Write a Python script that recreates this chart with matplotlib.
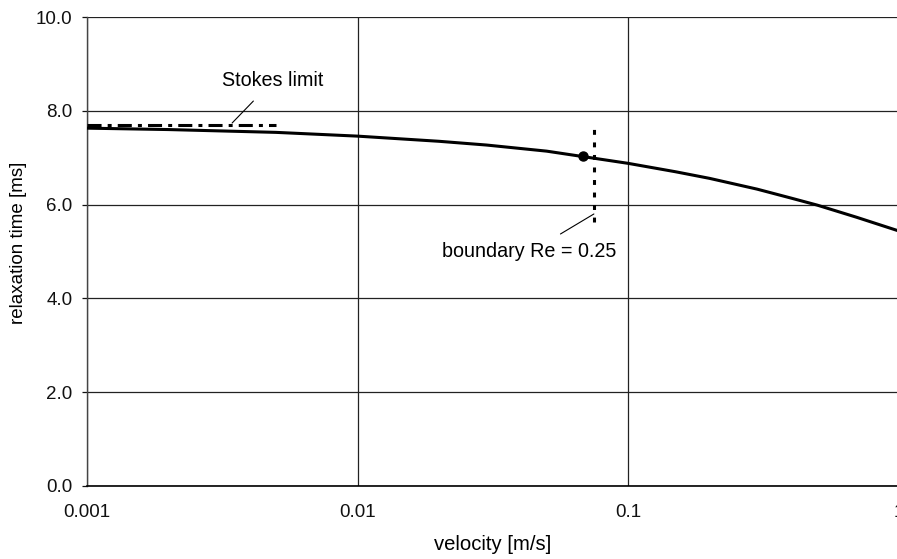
import matplotlib
matplotlib.use("Agg")
import matplotlib.pyplot as plt
from matplotlib.ticker import FixedLocator, FixedFormatter, NullLocator

# ---- data ----
velocity = [0.001, 0.002, 0.005, 0.01, 0.02, 0.03, 0.05, 0.1, 0.15, 0.2, 0.3, 0.4, 0.5, 0.7, 1.0]
relax_time = [7.63, 7.60, 7.54, 7.46, 7.35, 7.27, 7.14, 6.88, 6.70, 6.56, 6.33, 6.14, 5.99, 5.73, 5.44]

point_vel = [0.0684]
point_tau = [7.04]

stokes_vel = [0.001, 0.005]
stokes_tau = [7.70, 7.70]

boundary_vel = [0.075, 0.075]
boundary_tau = [5.63, 7.65]

x_ticks = [0.001, 0.01, 0.1, 1]
x_tick_labels = ["0.001", "0.01", "0.1", "1"]
y_ticks = [0, 2, 4, 6, 8, 10]
y_tick_labels = ["0.0", "2.0", "4.0", "6.0", "8.0", "10.0"]

plt.rcParams['font.family'] = ['Liberation Sans', 'DejaVu Sans']
FS = 13.5
FS_TXT = 14.2

fig = plt.figure(figsize=(8.97, 5.59), dpi=100)
ax = fig.add_axes([87/897, 1-486/559, (898.5-87)/897, (486-17)/559])

ax.set_xscale('log')
ax.set_xlim(0.001, 1)
ax.set_ylim(0, 10)

ax.xaxis.set_major_locator(FixedLocator(x_ticks))
ax.xaxis.set_major_formatter(FixedFormatter(x_tick_labels))
ax.xaxis.set_minor_locator(NullLocator())
ax.yaxis.set_major_locator(FixedLocator(y_ticks))
ax.yaxis.set_major_formatter(FixedFormatter(y_tick_labels))

ax.grid(True, which='major', color='#222222', linewidth=0.9)
ax.set_axisbelow(True)

for s in ['top', 'right']:
    ax.spines[s].set_visible(False)
ax.spines['left'].set_color('#444444')
ax.spines['left'].set_linewidth(1.0)
ax.spines['bottom'].set_color('black')
ax.spines['bottom'].set_linewidth(1.2)

ax.tick_params(axis='x', length=0, pad=13, labelsize=FS, colors='#111111')
ax.tick_params(axis='y', length=3.6, width=0.9, pad=7, labelsize=FS, colors='#111111', direction='out')

# main curve
ax.plot(velocity, relax_time, color='black', linewidth=2.2, solid_capstyle='butt',
        solid_joinstyle='round', clip_on=False, zorder=3)
# boundary point
ax.plot(point_vel, point_tau, 'o', color='black', markersize=6.5, zorder=4)
# Stokes limit
ax.plot(stokes_vel, stokes_tau, color='black', linewidth=2.2,
        linestyle=(0, (4.6, 2.0, 1.3, 2.0)), zorder=3)
# boundary Re = 0.25
ax.plot(boundary_vel, boundary_tau, color='black', linewidth=2.2,
        linestyle=(0, (1.6, 2.5)), zorder=3)

# annotations
ax.annotate('Stokes limit', xy=(0.00344, 7.74), xytext=(0.00487, 8.64),
            ha='center', va='center', fontsize=FS_TXT,
            arrowprops=dict(arrowstyle='-', color='black', linewidth=0.8,
                            shrinkA=8, shrinkB=0))
ax.annotate('boundary Re = 0.25', xy=(0.0748, 5.80), xytext=(0.0430, 4.99),
            ha='center', va='center', fontsize=FS_TXT,
            arrowprops=dict(arrowstyle='-', color='black', linewidth=0.8,
                            shrinkA=8, shrinkB=0, relpos=(0.6, 1.0)))

ax.set_xlabel('velocity [m/s]', fontsize=14.6, labelpad=10)
ax.set_ylabel('relaxation time [ms]', fontsize=FS)
ax.yaxis.set_label_coords(-0.074, 0.518)

fig.savefig('out.png', dpi=100)
